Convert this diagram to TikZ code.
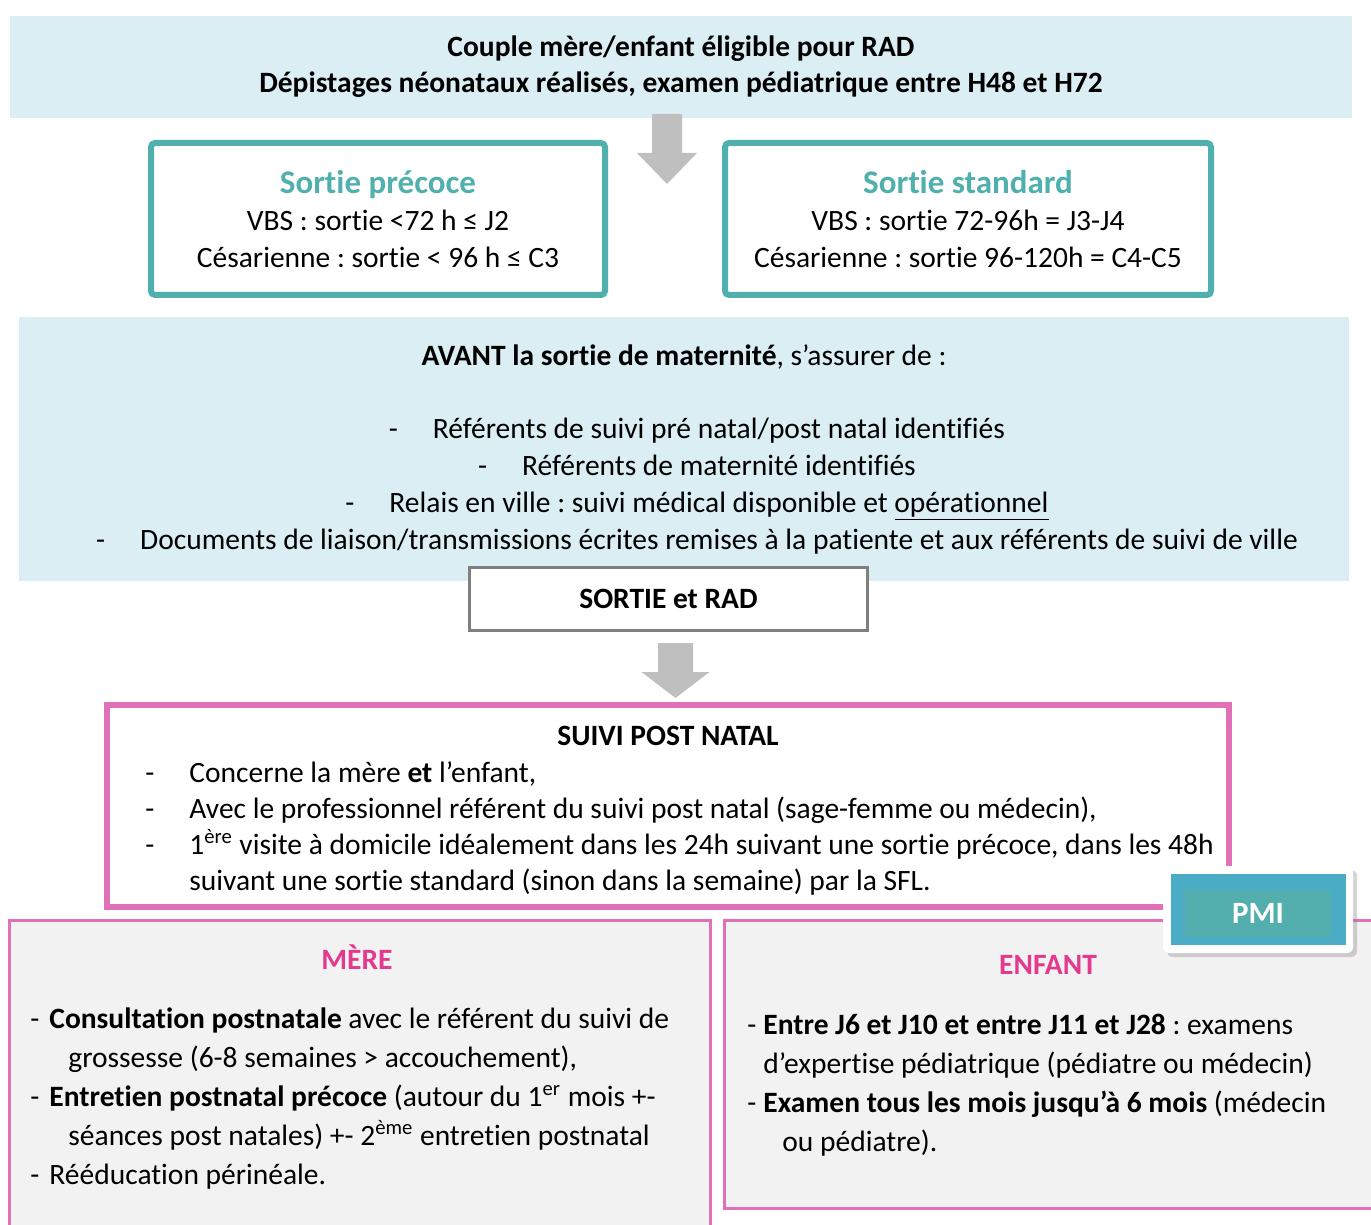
\documentclass[tikz,border=0pt]{standalone}
\usepackage{fontspec}
\setmainfont{Carlito}[Ligatures=NoCommon]
\usepackage{tikz}
\usetikzlibrary{positioning,shadows}
\definecolor{LBlue}{HTML}{DAEEF3}
\definecolor{Teal}{HTML}{50B0AD}
\definecolor{Pink}{HTML}{E070B8}
\definecolor{PinkT}{HTML}{E23B8D}
\definecolor{ArrGray}{HTML}{BFBFBF}
\definecolor{LineGray}{HTML}{7F7F7F}
\definecolor{BoxGray}{HTML}{F2F2F2}
\definecolor{PmiBlue}{HTML}{4BACC6}
\definecolor{PmiTeal}{HTML}{52AFAD}
\newcommand{\titre}[1]{{\fontsize{16.5}{18.5}\selectfont\bfseries\color{Teal}#1}}
\newcommand{\tiret}{\makebox[22pt][l]{-}}
\newcommand{\trait}{\makebox[9.5pt][l]{-}}
\newcommand{\petit}{\makebox[8pt][l]{-}}
\frenchspacing

\begin{document}
\begin{tikzpicture}[x=0.5pt,y=-0.5pt,
    every node/.style={font=\fontsize{14.75}{18.5}\selectfont},
    gras/.style={font=\fontsize{14.75}{18.5}\selectfont\bfseries},
    sortiebox/.style={draw=Teal,line width=3pt,rounded corners=2pt,
      minimum width=227pt,minimum height=76pt,align=center},
    cadre/.style={draw=Pink,line width=1.5pt,fill=BoxGray},
    liste/.style={anchor=north west,inner sep=0pt,align=left},
    blockarr/.style={fill=ArrGray,draw=none}
  ]
    \clip (0,0) rectangle (1371,1225);
    % haut
    \node[fill=LBlue,minimum width=671pt,minimum height=51pt,align=center,
      font=\fontsize{14.75}{18}\selectfont\bfseries] (elig) at (681,67)
      {Couple mère/enfant éligible pour RAD\\Dépistages néonataux réalisés, examen pédiatrique entre H48 et H72};
    \coordinate (fl1) at (667,114);
    \fill[blockarr] (fl1) ++(-15,0) -- ++(30,0) -- ++(0,39) -- ++(15,0)
      -- ++(-30,31) -- ++(-30,-31) -- ++(15,0) -- cycle;
    \node[sortiebox] (precoce) at (378,219)
      {\titre{Sortie précoce}\\VBS : sortie <72 h ≤ J2\\Césarienne : sortie < 96 h ≤ C3};
    \node[sortiebox,minimum width=243pt] (standard) at (968,219)
      {\titre{Sortie standard}\\VBS : sortie 72-96h = J3-J4\\Césarienne : sortie 96-120h = C4-C5};
    % avant la sortie
    \node[fill=LBlue,minimum width=665pt,minimum height=131.5pt,align=center] (avant) at (684,449)
      {\textbf{AVANT la sortie de maternité}, s’assurer de :\\[18pt]
       \hspace*{13pt}\tiret Référents de suivi pré natal/post natal identifiés\\
       \hspace*{13pt}\tiret Référents de maternité identifiés\\
       \hspace*{13pt}\tiret Relais en ville : suivi médical disponible et \underline{opérationnel}\\
       \hspace*{13pt}\tiret Documents de liaison/transmissions écrites remises à la patiente et aux référents de suivi de ville};
    \node[gras,draw=LineGray,line width=1.5pt,fill=white,minimum width=199pt,
      minimum height=31.5pt] (rad) at (668.5,599) {SORTIE et RAD};
    \coordinate (fl2) at (675.5,643);
    \fill[blockarr] (fl2) ++(-17.5,0) -- ++(35,0) -- ++(0,29) -- ++(16.5,0)
      -- ++(-34,26) -- ++(-34,-26) -- ++(16.5,0) -- cycle;
    % mere / enfant
    \node[cadre,minimum width=350.5pt,minimum height=169.75pt] (mere) at (360,1090.25) {};
    \node[gras,text=PinkT] (meretitre) at (357,957) {MÈRE};
    \node[liste,font=\fontsize{14.75}{19.5}\selectfont] (meretxt) at (30,1007)
      {\trait\textbf{Consultation postnatale} avec le référent du suivi de\\
       \hspace*{19pt}grossesse (6-8 semaines > accouchement),\\
       \trait\textbf{Entretien postnatal précoce} (autour du 1\textsuperscript{er} mois +-\\
       \hspace*{19pt}séances post natales) +- 2\textsuperscript{ème} entretien postnatal\\
       \trait Rééducation périnéale.};
    \node[cadre,minimum width=332.75pt,minimum height=143.75pt] (enfant) at (1057,1064.25) {};
    \node[gras,text=PinkT] (enfanttitre) at (1048,965) {ENFANT};
    \node[liste,font=\fontsize{14.75}{19.4}\selectfont] (enfanttxt) at (747,1014)
      {\petit\textbf{Entre J6 et J10 et entre J11 et J28} : examens\\
       \hspace*{8pt}d’expertise pédiatrique (pédiatre ou médecin)\\
       \petit\textbf{Examen tous les mois jusqu’à 6 mois} (médecin\\
       \hspace*{17.5pt}ou pédiatre).};
    % suivi post natal
    \node[draw=Pink,line width=3pt,fill=white,minimum width=561pt,
      minimum height=101pt] (suivi) at (668,806) {};
    \node[gras] (suivititre) at (668,736) {SUIVI POST NATAL};
    \node[liste,font=\fontsize{14.75}{18}\selectfont] (suivitxt) at (145,761)
      {\tiret Concerne la mère \textbf{et} l’enfant,\\
       \tiret Avec le professionnel référent du suivi post natal (sage-femme ou médecin),\\
       \tiret 1\textsuperscript{ère} visite à domicile idéalement dans les 24h suivant une sortie précoce, dans les 48h\\
       \hspace*{22pt}suivant une sortie standard (sinon dans la semaine) par la SFL.};
    % PMI
    \node[fill=white,rounded corners=3pt,minimum width=95pt,minimum height=43.5pt,
      drop shadow={shadow xshift=2pt,shadow yshift=-2pt,opacity=0.35}] (pmifond) at (1258,909.5) {};
    \node[fill=PmiBlue,minimum width=87.5pt,minimum height=35.5pt] (pmicadre) at (1258.5,909.5) {};
    \node[fill=PmiTeal,minimum width=73pt,minimum height=23.5pt,text=white,
      font=\fontsize{15.5}{18}\selectfont\bfseries] (pmi) at (1258,913.5) {PMI};
  \end{tikzpicture}
\end{document}
